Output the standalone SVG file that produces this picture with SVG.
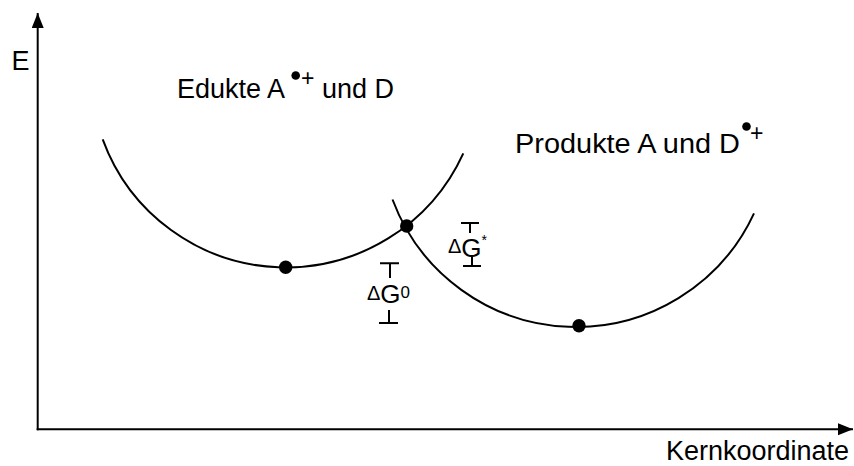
<svg xmlns="http://www.w3.org/2000/svg" width="854" height="466" viewBox="0 0 854 466">
<style>
  .ln { fill: none; stroke: #000; stroke-width: 2; }
  .crv { fill: none; stroke: #000; stroke-width: 2; }
  .dot { fill: #000; }
  text { font-family: "Liberation Sans", Arial, sans-serif; fill: #000; }
  .lbl { font-size: 27px; }
  .sup { font-size: 23px; }
</style>
<defs>
  <marker id="arr" markerUnits="userSpaceOnUse" markerWidth="16" markerHeight="14" refX="15" refY="6" orient="auto">
    <path d="M0,0 L15,6 L0,12 Z" fill="#000"/>
  </marker>
</defs>
<rect width="854" height="466" fill="#fff"/>
<g id="axes">
  <line class="ln" x1="37.7" y1="430.3" x2="37.7" y2="13" marker-end="url(#arr)"/>
  <line class="ln" x1="36.7" y1="429.3" x2="853" y2="429.3" marker-end="url(#arr)"/>
  <text class="lbl" x="11.5" y="70">E</text>
  <text class="lbl" x="849" y="460" text-anchor="end">Kernkoordinate</text>
</g>
<g id="connectors">
  <path id="edukt-curve" class="crv" d="M102.7,139.3 A195,195 0 0 0 463.3,153.3"/>
  <path id="produkt-curve" class="crv" d="M392.5,199.5 A196,196 0 0 0 754,213.3"/>
</g>
<g id="edukte-label">
  <text class="lbl" x="177" y="97.7">Edukte A</text>
  <circle class="dot" cx="295.7" cy="75.5" r="4.3"/>
  <text class="sup" x="301" y="86">+</text>
  <text class="lbl" x="322" y="97.7">und D</text>
</g>
<g id="produkte-label">
  <text class="lbl" x="515" y="153" font-size="28" textLength="225" lengthAdjust="spacingAndGlyphs">Produkte A und D</text>
  <circle class="dot" cx="746.5" cy="126.5" r="4.3"/>
  <text class="sup" x="750" y="141">+</text>
</g>
<g id="edukt-min"><circle class="dot" cx="285.7" cy="267.3" r="6.7"/></g>
<g id="produkt-min"><circle class="dot" cx="579" cy="325.7" r="6.7"/></g>
<g id="crossing"><circle class="dot" cx="406.7" cy="226" r="6.7"/></g>
<g id="dG0">
  <path class="ln" d="M380,263.3 H399 M390,263.3 V278 M389,310 V323 M379,323 H398"/>
  <text x="367" y="300"><tspan font-size="20">Δ</tspan><tspan font-size="26" dy="3">G</tspan><tspan font-size="17" dy="-5">0</tspan></text>
</g>
<g id="dGstar">
  <path class="ln" d="M461,223 H479 M470,223 V233 M472,257 V266 M463,266 H481"/>
  <text x="448" y="253.3"><tspan font-size="20">Δ</tspan><tspan font-size="26" dy="3.4">G</tspan><tspan font-size="14" dy="-12">*</tspan></text>
</g>
</svg>
